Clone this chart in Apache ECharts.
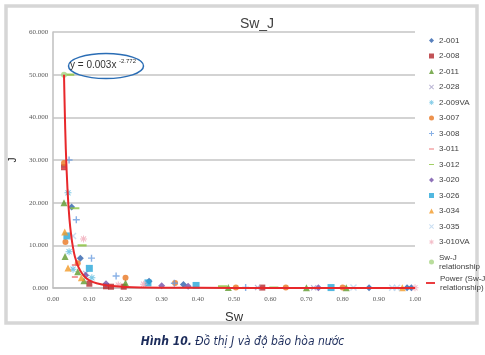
<!DOCTYPE html>
<html><head><meta charset="utf-8">
<script src="https://cdn.jsdelivr.net/npm/echarts@6/dist/echarts.min.js"></script>
<style>html,body{margin:0;padding:0;background:#fff}#c{width:485px;height:355px}</style>
</head><body><div id="c"></div>
<script>
// ---- data ----
const xTicks = [0, 0.1, 0.2, 0.3, 0.4, 0.5, 0.6, 0.7, 0.8, 0.9, 1.0];
const yTicks = [0, 10, 20, 30, 40, 50, 60];
const s2_001 = [[0.051,19],[0.075,7],[0.265,1.6],[0.36,0.8],[0.873,0.05],[0.978,0.05],[0.99,0.05]];
const s2_008 = [[0.03,28.3],[0.1,1.0],[0.146,0.4],[0.16,0.3],[0.195,0.3],[0.578,0.1]];
const s2_011 = [[0.03,20],[0.033,7.4],[0.068,3.8],[0.085,1.7],[0.2,1.2],[0.484,0.1],[0.7,0.05],[0.81,0.05]];
const s2_028 = [[0.09,3.4],[0.565,0.1],[0.72,0.05]];
const s2_009VA = [[0.041,22.3],[0.044,8.5],[0.055,4.4],[0.107,2.4]];
const s3_007 = [[0.03,29.3],[0.034,10.8],[0.068,5.8],[0.2,2.4],[0.337,1.2],[0.505,0.1],[0.643,0.1],[0.8,0.1]];
const s3_008 = [[0.044,30],[0.064,16],[0.106,7],[0.174,2.8],[0.335,1.1],[0.532,0.1]];
const s3_011 = [[0.03,28],[0.06,5.4],[0.06,2.6]];
const s3_012 = [[0.046,50],[0.06,18.7],[0.08,10],[0.468,0.4],[0.61,0.1]];
const s3_020 = [[0.09,3.0],[0.146,1.0],[0.3,0.5],[0.373,0.4],[0.733,0.05]];
const s3_026 = [[0.038,12.2],[0.1,4.6],[0.262,1.2],[0.395,0.6],[0.768,0.1]];
const s3_034 = [[0.032,13.1],[0.041,4.7],[0.078,2.4],[0.965,0.05]];
const s3_035 = [[0.055,12.2],[0.83,0.1],[0.937,0.05],[0.95,0.05]];
const s3_010VA = [[0.084,11.5],[0.18,0.7],[0.25,0.9],[1.0,0.05]];
const swJ = [[0.03,50]];
const powerCurve = [[0.03,50],[0.032,42],[0.035,32.5],[0.04,22.5],[0.045,16.2],[0.05,12.2],[0.055,9.4],[0.06,7.4],[0.07,4.9],[0.08,3.4],[0.09,2.4],[0.1,1.8],[0.12,1.1],[0.15,0.58],[0.2,0.26],[0.3,0.08],[0.4,0.04],[0.6,0.012],[0.8,0.007],[1.0,0.003]];

const P_PLUS = 'path://M4,0H6V4H10V6H6V10H4V6H0V4H4Z';
const P_X = 'path://M1.4,0L5,3.6L8.6,0L10,1.4L6.4,5L10,8.6L8.6,10L5,6.4L1.4,10L0,8.6L3.6,5L0,1.4Z';
const P_STAR = 'path://M4.3,0H5.7V3.3L8.1,0.9L9.1,1.9L6.7,4.3H10V5.7H6.7L9.1,8.1L8.1,9.1L5.7,6.7V10H4.3V6.7L1.9,9.1L0.9,8.1L3.3,5.7H0V4.3H3.3L0.9,1.9L1.9,0.9L4.3,3.3Z';
// thin dash, with tiny corner dots so the symbol box stays square
const P_DASH = 'path://M0,3.8H10V6.2H0Z M0,0H0.01V0.01H0Z M9.99,9.99H10V10H9.99Z';

const defs = [
  ['2-001', s2_001, 'diamond', '#2f62ad', 7],
  ['2-008', s2_008, 'rect', '#b3282d', 6],
  ['2-011', s2_011, 'triangle', '#5f9a2e', 7],
  ['2-028', s2_028, P_X, '#a9a3c9', 6],
  ['2-009VA', s2_009VA, P_STAR, '#5bbbe0', 7],
  ['3-007', s3_007, 'circle', '#e87722', 6],
  ['3-008', s3_008, P_PLUS, '#6b9de0', 7],
  ['3-011', s3_011, P_DASH, '#e9575a', 6],
  ['3-012', s3_012, P_DASH, '#8cc43f', 9],
  ['3-020', s3_020, 'diamond', '#7450a8', 7],
  ['3-026', s3_026, 'rect', '#27a6d8', 7],
  ['3-034', s3_034, 'triangle', '#f39a27', 7],
  ['3-035', s3_035, P_X, '#bcd6ef', 7],
  ['3-010VA', s3_010VA, P_STAR, '#f0a9b8', 7],
  ['Sw-J\nrelationship', swJ, 'circle', '#a8d483', 6]
];

const series = defs.map(d => ({
  name: d[0], type: 'scatter', data: d[1], symbol: d[2], symbolSize: d[4],
  itemStyle: {color: d[3]}, z: 2
}));
series.push({
  name: 'Power (Sw-J\nrelationship)', type: 'line', data: powerCurve, showSymbol: false,
  symbol: 'none', smooth: 0.3, lineStyle: {color: '#e8282b', width: 2}, itemStyle: {color: '#e8282b'}, z: 5
});

const names14 = defs.slice(0, 14).map(d => d[0]);
const legText = {fontSize: 8, color: '#404040', fontFamily: 'Liberation Sans', lineHeight: 9};

const chart = echarts.init(document.getElementById('c'), null, {renderer: 'canvas'});
chart.setOption({
  animation: false,
  backgroundColor: '#fff',
  title: {text: 'Sw_J', left: 252, top: 12, textAlign: 'center',
    textStyle: {fontSize: 14, fontWeight: 'normal', color: '#404040', fontFamily: 'Liberation Sans'}},
  grid: {left: 43, right: 70, top: 32, bottom: 67},
  legend: [
    {data: names14, orient: 'vertical', left: 424, top: 31, itemWidth: 5, itemHeight: 5, itemGap: 6.5,
      textStyle: legText},
    {data: ['Sw-J\nrelationship'], orient: 'vertical', left: 424, top: 248, itemWidth: 5, itemHeight: 5,
      textStyle: legText},
    {data: ['Power (Sw-J\nrelationship)'], orient: 'vertical', left: 421, top: 269, itemWidth: 9, itemHeight: 7,
      icon: 'path://M0,4H10V6H0Z', textStyle: legText}
  ],
  xAxis: {type: 'value', min: 0, max: 1, interval: 0.1,
    name: 'Sw', nameLocation: 'middle', nameGap: 23,
    nameTextStyle: {fontSize: 13, color: '#333', fontFamily: 'Liberation Sans'},
    axisLine: {show: true, lineStyle: {color: '#bfbfbf', width: 1.5}},
    axisTick: {show: false}, splitLine: {show: false},
    axisLabel: {fontSize: 7, color: '#595959', margin: 8, fontFamily: 'Liberation Serif',
      formatter: v => v.toFixed(2)}},
  yAxis: {type: 'value', min: 0, max: 60, interval: 10,
    name: 'J', nameLocation: 'middle', nameGap: 29, nameRotate: 90,
    nameTextStyle: {fontSize: 10, color: '#222', fontFamily: 'Liberation Sans'},
    axisLine: {show: true, lineStyle: {color: '#bfbfbf', width: 1.5}},
    axisTick: {show: false},
    splitLine: {show: true, lineStyle: {color: '#c4c4c4', width: 1.5}},
    axisLabel: {fontSize: 7, color: '#595959', margin: 5, fontFamily: 'Liberation Serif',
      formatter: v => v.toFixed(3)}},
  graphic: [
    {type: 'rect', shape: {x: 6, y: 6, width: 471, height: 317}, silent: true, z: -10,
      style: {fill: 'none', stroke: '#d6d6d6', lineWidth: 3.5}},
    {type: 'ellipse', shape: {cx: 106, cy: 66, rx: 37.5, ry: 12.5}, z: 10,
      style: {fill: 'none', stroke: '#2a6db5', lineWidth: 1.5}},
    {type: 'text', left: 70, top: 60, z: 11,
      style: {text: 'y = 0.003x', fontSize: 10, fill: '#333', fontFamily: 'Liberation Sans'}},
    {type: 'text', left: 119, top: 58, z: 11,
      style: {text: '-2.772', fontSize: 6, fill: '#333', fontFamily: 'Liberation Sans'}},
    {type: 'text', left: 'center', top: 336, z: 11,
      style: {rich: {
        a: {fontSize: 12, fontWeight: 'bold', fontStyle: 'italic', fill: '#1c2c5b', fontFamily: '"DejaVu Sans Condensed", "Liberation Sans"'},
        b: {fontSize: 12, fontStyle: 'italic', fill: '#1c2c5b', fontFamily: '"DejaVu Sans Condensed", "Liberation Sans"'}
      }, text: '{a|Hình 10.} {b|Đồ thị J và độ bão hòa nước}'}}
  ],
  series: series
});
</script></body></html>
